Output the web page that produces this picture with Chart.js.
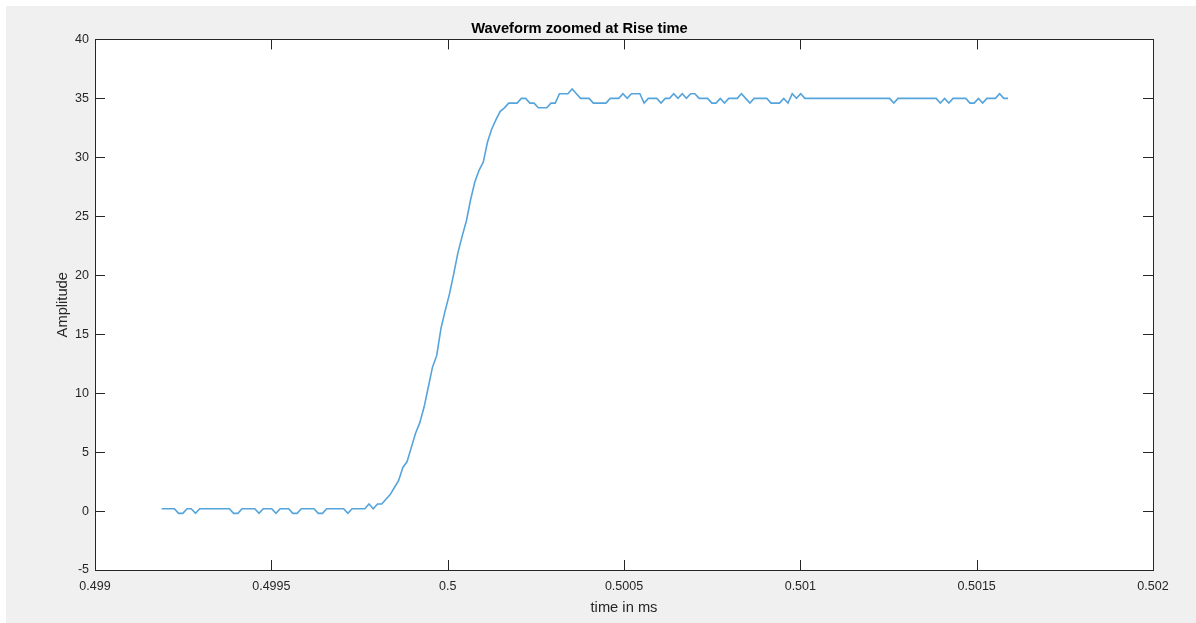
<!DOCTYPE html>
<html>
<head>
<meta charset="utf-8">
<script src="https://cdn.jsdelivr.net/npm/chart.js@4.4.1/dist/chart.umd.min.js"></script>
<style>
  html, body { margin: 0; padding: 0; background: #ffffff; }
  #fig { position: absolute; left: 6px; top: 6px; width: 1190px; height: 617px; background: #f0f0f0; }
  canvas { display: block; }
</style>
</head>
<body>
<div id="fig"><canvas id="waveChart" width="1190" height="617"></canvas></div>
<script>
// --- DADES ---
const startTime = 0.499189; // ms
const sampleStep = 0.000012; // ms entre mostres
const amplitude = [
  0.2, 0.2, 0.2, 0.2, -0.2, -0.2, 0.2, 0.2, -0.2, 0.2,
  0.2, 0.2, 0.2, 0.2, 0.2, 0.2, 0.2, -0.2, -0.2, 0.2,
  0.2, 0.2, 0.2, -0.2, 0.2, 0.2, 0.2, -0.2, 0.2, 0.2,
  0.2, -0.2, -0.2, 0.2, 0.2, 0.2, 0.2, -0.2, -0.2, 0.2,
  0.2, 0.2, 0.2, 0.2, -0.2, 0.2, 0.2, 0.2, 0.2, 0.6,
  0.2, 0.6, 0.6, 1.0, 1.4, 2.0, 2.6, 3.7, 4.2, 5.4,
  6.6, 7.5, 8.8, 10.5, 12.2, 13.2, 15.5, 17.0, 18.4, 20.1,
  21.9, 23.3, 24.6, 26.4, 27.9, 28.9, 29.6, 31.3, 32.4, 33.2,
  33.9, 34.2, 34.6, 34.6, 34.6, 35.0, 35.0, 34.6, 34.6, 34.2,
  34.2, 34.2, 34.6, 34.6, 35.4, 35.4, 35.4, 35.8, 35.4, 35.0,
  35.0, 35.0, 34.6, 34.6, 34.6, 34.6, 35.0, 35.0, 35.0, 35.4,
  35.0, 35.4, 35.4, 35.4, 34.6, 35.0, 35.0, 35.0, 34.6, 35.0,
  35.0, 35.4, 35.0, 35.4, 35.0, 35.4, 35.4, 35.0, 35.0, 35.0,
  34.6, 34.6, 35.0, 34.6, 35.0, 35.0, 35.0, 35.4, 35.0, 34.6,
  35.0, 35.0, 35.0, 35.0, 34.6, 34.6, 34.6, 35.0, 34.6, 35.4,
  35.0, 35.4, 35.0, 35.0, 35.0, 35.0, 35.0, 35.0, 35.0, 35.0,
  35.0, 35.0, 35.0, 35.0, 35.0, 35.0, 35.0, 35.0, 35.0, 35.0,
  35.0, 35.0, 35.0, 34.6, 35.0, 35.0, 35.0, 35.0, 35.0, 35.0,
  35.0, 35.0, 35.0, 35.0, 34.6, 35.0, 34.6, 35.0, 35.0, 35.0,
  35.0, 34.6, 34.6, 35.0, 34.6, 35.0, 35.0, 35.0, 35.4, 35.0,
  35.0
];
const xTickValues = [0.499, 0.4995, 0.5, 0.5005, 0.501, 0.5015, 0.502];
const xTickLabels = ["0.499", "0.4995", "0.5", "0.5005", "0.501", "0.5015", "0.502"];
const yTickValues = [-5, 0, 5, 10, 15, 20, 25, 30, 35, 40];
const yTickLabels = ["-5", "0", "5", "10", "15", "20", "25", "30", "35", "40"];

const points = amplitude.map((v, i) => ({ x: startTime + i * sampleStep, y: v }));

const axisColor = "#262626";
const fontFamily = "'Liberation Sans', Arial, Helvetica, sans-serif";

// Fons blanc de l'àrea i marques cap endins (estil MATLAB)
const matlabBox = {
  id: "matlabBox",
  beforeDraw(chart) {
    const { ctx, chartArea: a } = chart;
    ctx.save();
    ctx.fillStyle = "#ffffff";
    ctx.fillRect(a.left, a.top, a.right - a.left, a.bottom - a.top);
    ctx.restore();
  },
  afterDraw(chart) {
    const { ctx, chartArea: a, scales } = chart;
    const len = 10;
    ctx.save();
    ctx.strokeStyle = axisColor;
    ctx.lineWidth = 1;
    ctx.beginPath();
    xTickValues.forEach((v) => {
      const px = Math.round(scales.x.getPixelForValue(v)) + 0.5;
      ctx.moveTo(px, a.bottom);
      ctx.lineTo(px, a.bottom - len);
      ctx.moveTo(px, a.top);
      ctx.lineTo(px, a.top + len);
    });
    yTickValues.forEach((v) => {
      const py = Math.round(scales.y.getPixelForValue(v)) + 0.5;
      ctx.moveTo(a.left, py);
      ctx.lineTo(a.left + len, py);
      ctx.moveTo(a.right, py);
      ctx.lineTo(a.right - len, py);
    });
    ctx.stroke();
    ctx.strokeRect(Math.round(a.left) + 0.5, Math.round(a.top) + 0.5,
      Math.round(a.right - a.left), Math.round(a.bottom - a.top));
    ctx.restore();
  },
};

new Chart(document.getElementById("waveChart"), {
  type: "line",
  data: {
    datasets: [
      {
        data: points,
        borderColor: "#56a4dc",
        borderWidth: 1.6,
        pointRadius: 0,
        tension: 0,
        fill: false,
      },
    ],
  },
  options: {
    responsive: false,
    animation: false,
    devicePixelRatio: 1,
    layout: { padding: { left: 0, right: 43, top: 0, bottom: 0 } },
    plugins: {
      legend: { display: false },
      tooltip: { enabled: false },
      title: {
        display: true,
        text: "Waveform zoomed at Rise time",
        color: "#000000",
        font: { family: fontFamily, size: 14.7, weight: "bold", lineHeight: 1.2 },
        padding: { top: 14, bottom: 1.8 },
      },
    },
    scales: {
      x: {
        type: "linear",
        min: 0.499,
        max: 0.502,
        afterBuildTicks: (scale) => {
          scale.ticks = xTickValues.map((v) => ({ value: v }));
        },
        afterFit: (scale) => { scale.height = 53; },
        grid: { display: false, drawTicks: false },
        border: { display: false },
        ticks: {
          color: axisColor,
          padding: 9,
          maxRotation: 0,
          autoSkip: false,
          font: { family: fontFamily, size: 12.5 },
          callback: (v, i) => xTickLabels[i],
        },
        title: {
          display: true,
          text: "time in ms",
          color: axisColor,
          font: { family: fontFamily, size: 14.7, lineHeight: 1.2 },
          padding: { top: 0, bottom: 6.4 },
        },
      },
      y: {
        type: "linear",
        min: -5,
        max: 40,
        afterBuildTicks: (scale) => {
          scale.ticks = yTickValues.map((v) => ({ value: v }));
        },
        afterFit: (scale) => { scale.width = 89; },
        grid: { display: false, drawTicks: false },
        border: { display: false },
        ticks: {
          color: axisColor,
          padding: 6,
          autoSkip: false,
          font: { family: fontFamily, size: 12.5 },
          callback: (v, i) => yTickLabels[i],
        },
        title: {
          display: true,
          text: "Amplitude",
          color: axisColor,
          font: { family: fontFamily, size: 14.7, lineHeight: 1.2 },
          padding: { top: 48, bottom: 0 },
        },
      },
    },
  },
  plugins: [matlabBox],
});
</script>
</body>
</html>
